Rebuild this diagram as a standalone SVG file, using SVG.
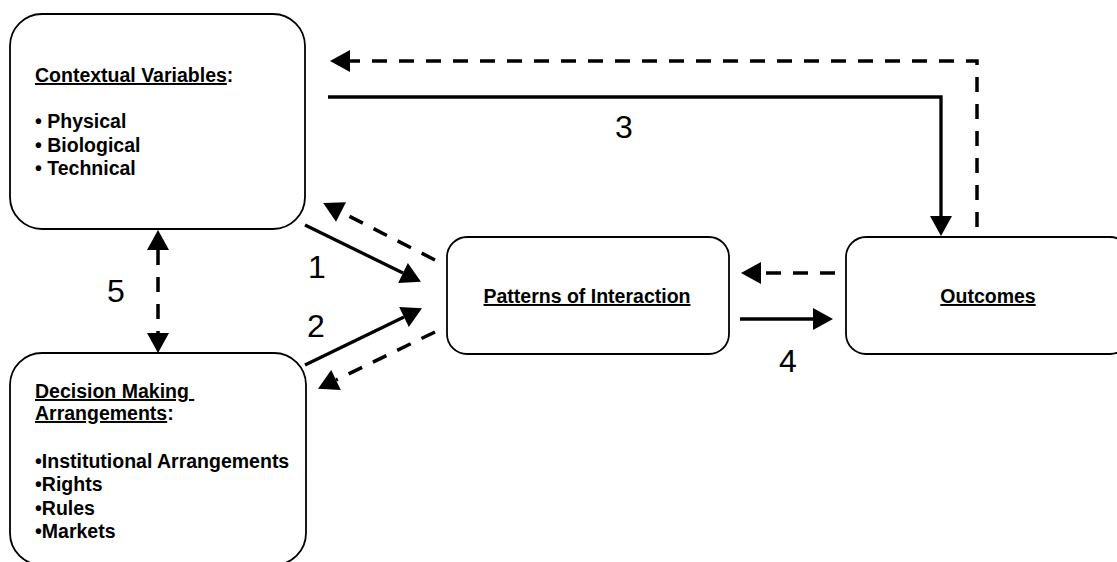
<svg xmlns="http://www.w3.org/2000/svg" width="1117" height="562" viewBox="0 0 1117 562">
  <style>
    .box { fill: #ffffff; stroke: #000000; stroke-width: 1.8; }
    .lbl { font-family: "Liberation Sans", Arial, sans-serif; font-weight: bold; font-size: 19.5px; fill: #000000; }
    .ul { text-decoration: underline; }
    .num { font-family: "Liberation Sans", Arial, sans-serif; font-size: 32px; fill: #000000; text-anchor: middle; }
    .solid { fill: none; stroke: #000000; stroke-width: 3.3; marker-end: url(#head); }
    .dash { fill: none; stroke: #000000; stroke-width: 3.5; stroke-dasharray: 15 12; marker-end: url(#head); }
  </style>
  <defs>
    <!-- filled arrowhead; the path ends at its base and the tip points forward -->
    <marker id="head" markerUnits="userSpaceOnUse" markerWidth="22" markerHeight="24" refX="0" refY="11" orient="auto-start-reverse" overflow="visible">
      <path d="M0,0 L20,11 L0,22 Z" fill="#000000" stroke="none"/>
    </marker>
  </defs>

  <rect width="1117" height="562" fill="#ffffff"/>

  <g id="connectors">
    <!-- 3: contextual variables to outcomes -->
    <path class="solid" d="M328,97 H941 V216"/>
    <!-- feedback from outcomes to contextual variables -->
    <path class="dash" d="M977,227 V61 H350"/>
    <!-- 1: contextual variables to patterns -->
    <path class="solid" d="M305,225 L403,273"/>
    <path class="dash" d="M435,260 L341,212"/>
    <!-- 2: decision making to patterns -->
    <path class="solid" d="M305,365 L404,317"/>
    <path class="dash" d="M435,332 L336,380"/>
    <!-- 4: patterns to outcomes -->
    <path class="solid" d="M740,319 H813"/>
    <path class="dash" d="M835,273 H761"/>
    <!-- 5: between contextual variables and decision making -->
    <path class="dash" d="M158,250 V333" marker-start="url(#head)"/>
  </g>

  <g id="labels">
    <text class="num" x="317" y="278">1</text>
    <text class="num" x="316" y="337">2</text>
    <text class="num" x="624" y="138">3</text>
    <text class="num" x="788" y="372">4</text>
    <text class="num" x="116" y="302">5</text>
  </g>

  <g id="contextual-variables">
    <rect class="box" x="10" y="14" width="295" height="215" rx="32" ry="32"/>
    <text class="lbl" x="35" y="82"><tspan class="ul">Contextual Variables</tspan>:</text>
    <text class="lbl" x="35" y="128">• Physical</text>
    <text class="lbl" x="35" y="152">• Biological</text>
    <text class="lbl" x="35" y="175">• Technical</text>
  </g>

  <g id="decision-making">
    <rect class="box" x="10" y="353" width="296" height="212" rx="32" ry="32"/>
    <text class="lbl" x="35" y="398" xml:space="preserve"><tspan class="ul">Decision Making </tspan></text>
    <text class="lbl" x="35" y="420"><tspan class="ul">Arrangements</tspan>:</text>
    <text class="lbl" x="35" y="468">•Institutional Arrangements</text>
    <text class="lbl" x="35" y="491">•Rights</text>
    <text class="lbl" x="35" y="515">•Rules</text>
    <text class="lbl" x="35" y="538">•Markets</text>
  </g>

  <g id="patterns">
    <rect class="box" x="447" y="237" width="282" height="117" rx="20" ry="20"/>
    <text class="lbl ul" x="587" y="303" text-anchor="middle">Patterns of Interaction</text>
  </g>

  <g id="outcomes">
    <rect class="box" x="846" y="237" width="284" height="117" rx="20" ry="20"/>
    <text class="lbl ul" x="988" y="303" text-anchor="middle">Outcomes</text>
  </g>
</svg>
